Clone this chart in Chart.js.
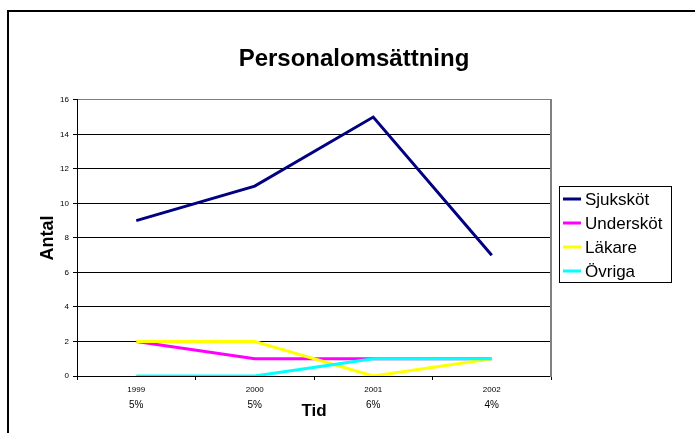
<!DOCTYPE html>
<html>
<head>
<meta charset="utf-8">
<script src="https://cdn.jsdelivr.net/npm/chart.js@4/dist/chart.umd.min.js"></script>
<style>
    html, body { margin: 0; padding: 0; background: #fff; }
</style>
</head>
<body>
<canvas id="chart" width="695" height="433"></canvas>
<script>
// Data
const years = ["1999", "2000", "2001", "2002"];
const turnover = ["5%", "5%", "6%", "4%"];
const seriesNames = ["Sjuksköt", "Undersköt", "Läkare", "Övriga"];
const sjukskot = [9, 11, 15, 7];
const underskot = [2, 1, 1, 1];
const lakare = [2, 2, 0, 1];
const ovriga = [0, 0, 1, 1];
const seriesColors = ["#000080", "#FF00FF", "#FFFF00", "#00FFFF"];

Chart.defaults.font.family = "'Liberation Sans', Arial, sans-serif";
Chart.defaults.color = "#000";

// Ram runt hela diagrammet (bara vänster och topp syns)
const framePlugin = {
    id: "frame",
    beforeDraw(chart) {
        const ctx = chart.ctx;
        ctx.save();
        ctx.fillStyle = "#fff";
        ctx.fillRect(0, 0, chart.width, chart.height);
        ctx.strokeStyle = "#000";
        ctx.lineWidth = 2;
        ctx.strokeRect(8, 11, chart.width + 20, chart.height + 20);
        ctx.restore();
    }
};

// Förklaring med ram, ritad från dataseten
const boxLegend = {
    id: "boxLegend",
    afterDraw(chart) {
        const ctx = chart.ctx;
        const left = 559, top = 186, w = 112, rowH = 24;
        const sets = chart.data.datasets;
        ctx.save();
        ctx.strokeStyle = "#000";
        ctx.lineWidth = 1;
        ctx.strokeRect(left + 0.5, top + 0.5, w, rowH * sets.length);
        ctx.font = "17px 'Liberation Sans', Arial, sans-serif";
        ctx.textBaseline = "middle";
        ctx.fillStyle = "#000";
        sets.forEach((ds, i) => {
            const y = top + 13 + i * rowH;
            ctx.strokeStyle = ds.borderColor;
            ctx.lineWidth = 3;
            ctx.beginPath();
            ctx.moveTo(left + 4, y);
            ctx.lineTo(left + 22, y);
            ctx.stroke();
            ctx.fillText(ds.label, left + 26, y + 1);
        });
        ctx.restore();
    }
};

const values = [sjukskot, underskot, lakare, ovriga];
const datasets = seriesNames.map((name, i) => ({
    label: name,
    data: values[i],
    borderColor: seriesColors[i],
    backgroundColor: seriesColors[i],
    borderWidth: 3,
    pointRadius: 0,
    tension: 0,
    fill: false,
    xAxisID: "x",
    yAxisID: "y",
    order: seriesNames.length - 1 - i // sista serien överst, som i Excel
}));

new Chart(document.getElementById("chart"), {
    type: "line",
    data: { labels: years, datasets: datasets },
    options: {
        responsive: false,
        animation: false,
        layout: { padding: { top: 45, left: 13, right: 0, bottom: 0 } },
        plugins: {
            legend: { display: false },
            tooltip: { enabled: false },
            title: {
                display: true,
                text: "Personalomsättning",
                color: "#000",
                font: { size: 24, weight: "bold" },
                padding: { top: 0, bottom: 26 }
            }
        },
        scales: {
            x: {
                type: "category",
                offset: true,
                weight: 0,
                grid: { offset: true, drawOnChartArea: false, color: "#000", tickLength: 4 },
                border: { color: "#000", width: 1 },
                ticks: { font: { size: 8 }, color: "#000", padding: 5, maxRotation: 0, autoSkip: false },
                afterFit: s => { s.height = 20; }
            },
            x2: {
                type: "category",
                labels: turnover,
                position: "bottom",
                offset: true,
                weight: 1,
                grid: { display: false, drawTicks: false },
                border: { display: false },
                ticks: { font: { size: 10 }, color: "#000", padding: 3, maxRotation: 0, autoSkip: false },
                title: {
                    display: true,
                    text: "Tid",
                    color: "#000",
                    font: { size: 17, weight: "bold" },
                    padding: { top: 0, bottom: 11 }
                },
                afterFit: s => { s.height = 37; }
            },
            y: {
                min: 0,
                max: 16,
                ticks: { stepSize: 2, font: { size: 8 }, color: "#000", padding: 4 },
                grid: {
                    color: c => (c.tick && c.tick.value === 16 ? "#808080" : "#000"),
                    tickColor: "#000",
                    tickLength: 4,
                    lineWidth: 1
                },
                border: { color: "#000", width: 1 },
                title: {
                    display: true,
                    text: "Antal",
                    color: "#000",
                    font: { size: 18, weight: "bold" },
                    padding: { top: 24, bottom: 0 }
                },
                afterFit: s => { s.width = 64; }
            },
            yR: {
                position: "right",
                min: 0,
                max: 16,
                ticks: { display: false },
                grid: { display: false, drawTicks: false },
                border: { display: true, color: "#808080", width: 2 },
                afterFit: s => { s.width = 144; }
            }
        }
    },
    plugins: [framePlugin, boxLegend]
});
</script>
</body>
</html>
